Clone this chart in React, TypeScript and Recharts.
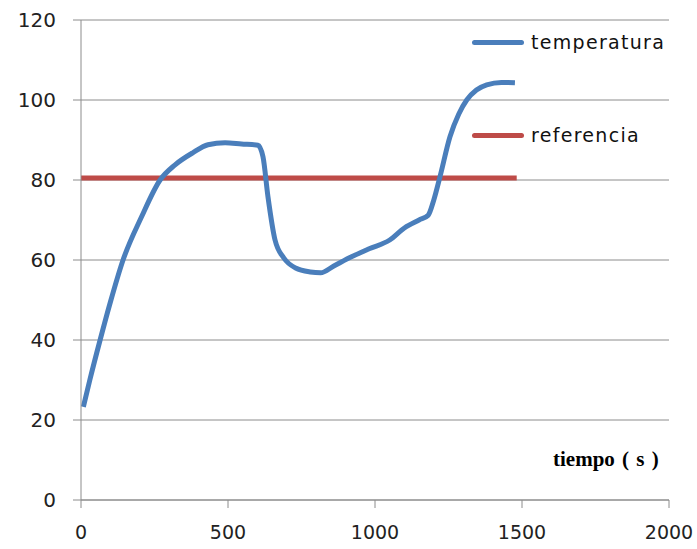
import React from 'react';
import { LineChart, Line, XAxis, YAxis, CartesianGrid } from 'recharts';

const tiempo = [8, 30, 65, 100, 143, 206, 269, 320, 380, 432, 490, 546, 602, 619, 636, 660, 690, 730, 780, 815, 860, 920, 980, 1050, 1100, 1150, 1181, 1200, 1221, 1255, 1285, 1312, 1345, 1380, 1430, 1476];
const temperatura = [23.3, 30, 40, 49.5, 60, 70.8, 80, 83.8, 86.8, 88.8, 89.3, 89, 88.7, 85.8, 75.8, 65, 60.5, 58, 57, 56.8, 58.5, 60.8, 62.8, 65, 68, 70, 71.2, 75, 80.8, 90.8, 96.5, 100, 102.5, 103.8, 104.4, 104.3];
const refTiempo = [0, 1482];
const referencia = [80.5, 80.5];
const xTicks = [0, 500, 1000, 1500, 2000];
const yTicks = [0, 20, 40, 60, 80, 100, 120];

const tempData = tiempo.map((t, i) => ({ t, temperatura: temperatura[i] }));
const refData = refTiempo.map((t, i) => ({ t, referencia: referencia[i] }));

const BLUE = '#4a7ebb';
const RED = '#be4b48';
const GRID = '#8c8c8c';

function LegendItem({ color, label, top }: { color: string; label: string; top: number }) {
  return (
    <div style={{ position: 'absolute', left: 472, top, display: 'flex', alignItems: 'center' }}>
      <div style={{ width: 52, height: 5, background: color, borderRadius: 3 }} />
      <span style={{ marginLeft: 7, fontFamily: 'DejaVu Sans', fontSize: 19, color: '#111', letterSpacing: 1.3 }}>{label}</span>
    </div>
  );
}

export default function App() {
  return (
    <div style={{ position: 'absolute', left: 0, top: 0, width: 697, height: 549, background: '#fff' }}>
      <LineChart width={697} height={549} margin={{ top: 20, right: 28, left: 0, bottom: 5 }}>
        <CartesianGrid horizontal vertical={false} stroke={GRID} />
        <XAxis
          type="number"
          dataKey="t"
          domain={[0, 2000]}
          ticks={xTicks}
          stroke={GRID}
          tickSize={8}
          tickMargin={18}
          height={44}
          tick={{ fill: '#222', fontFamily: 'DejaVu Sans', fontSize: 19 }}
        />
        <YAxis
          type="number"
          domain={[0, 120]}
          ticks={yTicks}
          stroke={GRID}
          tickSize={8}
          tickMargin={17}
          width={81}
          tick={{ fill: '#222', fontFamily: 'DejaVu Sans', fontSize: 20 }}
        />
        <Line data={refData} dataKey="referencia" type="linear" stroke={RED} strokeWidth={5} dot={false} isAnimationActive={false} />
        <Line data={tempData} dataKey="temperatura" type="monotone" stroke={BLUE} strokeWidth={5} dot={false} isAnimationActive={false} />
      </LineChart>
      <LegendItem color={BLUE} label="temperatura" top={31} />
      <LegendItem color={RED} label="referencia" top={124} />
      <div style={{ position: 'absolute', left: 553, top: 447, fontFamily: 'Liberation Serif', fontWeight: 'bold', fontSize: 21, color: '#000', wordSpacing: 2 }}>
        tiempo ( s )
      </div>
    </div>
  );
}
